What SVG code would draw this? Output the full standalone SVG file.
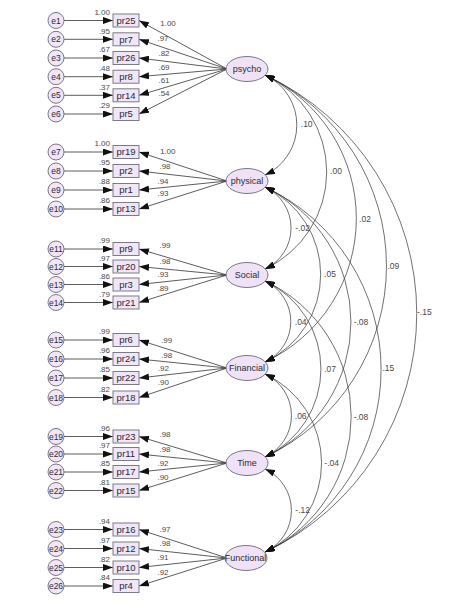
<svg xmlns="http://www.w3.org/2000/svg" width="475" height="609" viewBox="0 0 475 609">
<defs>
<marker id="ah" markerUnits="userSpaceOnUse" markerWidth="10" markerHeight="7" refX="10" refY="3.5" orient="auto-start-reverse">
<path d="M0,0 L10,3.5 L0,7 z" fill="#111"/>
</marker>
<style>
text{font-family:"Liberation Sans",Arial,sans-serif;fill:#333}
.box{fill:#f1e6f7;stroke:#7d7a88;stroke-width:1}
.err{fill:#f1e6f7;stroke:#6d6a78;stroke-width:0.9}
.lat{fill:#efe2f6;stroke:#6d6a78;stroke-width:0.9}
.t9{font-size:9px;text-anchor:middle;fill:#2a2a35}
.tb{font-size:9.5px;text-anchor:middle;fill:#2a2a35}
.te{font-size:8.5px;text-anchor:middle;fill:#2a2a35}
.r2{font-size:8px;fill:#4a4a4a;text-anchor:end}
.ld{font-size:8px;fill:#4a4a4a;text-anchor:middle}
.cv{font-size:8.5px;fill:#4a4a4a;text-anchor:middle}
.c{fill:none;stroke:#333;stroke-width:0.8;marker-end:url(#ah)}
.a{fill:none;stroke:#333;stroke-width:0.7;marker-start:url(#ah);marker-end:url(#ah)}
</style>
</defs>
<rect width="475" height="609" fill="#fff"/>

<!-- connectors -->
<g id="connectors">
<!-- error arrows -->
<line class="c" x1="64" y1="20.5" x2="113" y2="20.5"/>
<line class="c" x1="64" y1="39.3" x2="113" y2="39.3"/>
<line class="c" x1="64" y1="58" x2="113" y2="58"/>
<line class="c" x1="64" y1="76.7" x2="113" y2="76.7"/>
<line class="c" x1="64" y1="95.3" x2="113" y2="95.3"/>
<line class="c" x1="64" y1="114" x2="113" y2="114"/>
<line class="c" x1="64" y1="152" x2="113" y2="152"/>
<line class="c" x1="64" y1="171" x2="113" y2="171"/>
<line class="c" x1="64" y1="190" x2="113" y2="190"/>
<line class="c" x1="64" y1="209" x2="113" y2="209"/>
<line class="c" x1="64" y1="249" x2="113" y2="249"/>
<line class="c" x1="64" y1="266.5" x2="113" y2="266.5"/>
<line class="c" x1="64" y1="284.5" x2="113" y2="284.5"/>
<line class="c" x1="64" y1="302.5" x2="113" y2="302.5"/>
<line class="c" x1="64" y1="340" x2="113" y2="340"/>
<line class="c" x1="64" y1="359" x2="113" y2="359"/>
<line class="c" x1="64" y1="378" x2="113" y2="378"/>
<line class="c" x1="64" y1="397.5" x2="113" y2="397.5"/>
<line class="c" x1="64" y1="436.5" x2="113" y2="436.5"/>
<line class="c" x1="64" y1="454" x2="113" y2="454"/>
<line class="c" x1="64" y1="472" x2="113" y2="472"/>
<line class="c" x1="64" y1="490.5" x2="113" y2="490.5"/>
<line class="c" x1="64" y1="529.5" x2="113" y2="529.5"/>
<line class="c" x1="64" y1="548.5" x2="113" y2="548.5"/>
<line class="c" x1="64" y1="567.5" x2="113" y2="567.5"/>
<line class="c" x1="64" y1="586" x2="113" y2="586"/>
<!-- loadings -->
<line class="c" x1="227" y1="69" x2="139" y2="20.5"/>
<line class="c" x1="227" y1="69" x2="139" y2="39.3"/>
<line class="c" x1="227" y1="69" x2="139" y2="58"/>
<line class="c" x1="227" y1="69" x2="139" y2="76.7"/>
<line class="c" x1="227" y1="69" x2="139" y2="95.3"/>
<line class="c" x1="227" y1="69" x2="139" y2="114"/>
<line class="c" x1="227" y1="181" x2="139" y2="152"/>
<line class="c" x1="227" y1="181" x2="139" y2="171"/>
<line class="c" x1="227" y1="181" x2="139" y2="190"/>
<line class="c" x1="227" y1="181" x2="139" y2="209"/>
<line class="c" x1="227" y1="275" x2="139" y2="249"/>
<line class="c" x1="227" y1="275" x2="139" y2="266.5"/>
<line class="c" x1="227" y1="275" x2="139" y2="284.5"/>
<line class="c" x1="227" y1="275" x2="139" y2="302.5"/>
<line class="c" x1="227" y1="368" x2="139" y2="340"/>
<line class="c" x1="227" y1="368" x2="139" y2="359"/>
<line class="c" x1="227" y1="368" x2="139" y2="378"/>
<line class="c" x1="227" y1="368" x2="139" y2="397.5"/>
<line class="c" x1="227" y1="463" x2="139" y2="436.5"/>
<line class="c" x1="227" y1="463" x2="139" y2="454"/>
<line class="c" x1="227" y1="463" x2="139" y2="472"/>
<line class="c" x1="227" y1="463" x2="139" y2="490.5"/>
<line class="c" x1="227" y1="558" x2="139" y2="529.5"/>
<line class="c" x1="227" y1="558" x2="139" y2="548.5"/>
<line class="c" x1="227" y1="558" x2="139" y2="567.5"/>
<line class="c" x1="227" y1="558" x2="139" y2="586"/>
<!-- covariances -->
<path class="a" d="M265,75 A55.2,55.2 0 0 1 265,175"/>
<path class="a" d="M265,75 A107.1,107.1 0 0 1 265,269"/>
<path class="a" d="M265,75 A158.4,158.4 0 0 1 265,362"/>
<path class="a" d="M265,75 A210.9,210.9 0 0 1 265,457"/>
<path class="a" d="M265,75 A263.3,263.3 0 0 1 265,552"/>
<path class="a" d="M265,187 A45.3,45.3 0 0 1 265,269"/>
<path class="a" d="M265,187 A96.6,96.6 0 0 1 265,362"/>
<path class="a" d="M265,187 A149,149 0 0 1 265,457"/>
<path class="a" d="M265,187 A201.5,201.5 0 0 1 265,552"/>
<path class="a" d="M265,281 A44.7,44.7 0 0 1 265,362"/>
<path class="a" d="M265,281 A97.2,97.2 0 0 1 265,457"/>
<path class="a" d="M265,281 A149.6,149.6 0 0 1 265,552"/>
<path class="a" d="M265,374 A45.8,45.8 0 0 1 265,457"/>
<path class="a" d="M265,374 A98.3,98.3 0 0 1 265,552"/>
<path class="a" d="M265,469 A45.8,45.8 0 0 1 265,552"/>
</g>

<g id="edge-labels">
<!-- R squared -->
<text class="r2" x="110" y="14.5">1.00</text>
<text class="r2" x="110" y="33.5">.95</text>
<text class="r2" x="110" y="52.2">.67</text>
<text class="r2" x="110" y="70.9">.48</text>
<text class="r2" x="110" y="89.5">.37</text>
<text class="r2" x="110" y="108.2">.29</text>
<text class="r2" x="110" y="146.2">1.00</text>
<text class="r2" x="110" y="165.2">.95</text>
<text class="r2" x="110" y="184.2">.88</text>
<text class="r2" x="110" y="203.2">.86</text>
<text class="r2" x="110" y="243.2">.99</text>
<text class="r2" x="110" y="260.7">.97</text>
<text class="r2" x="110" y="278.7">.86</text>
<text class="r2" x="110" y="296.7">.79</text>
<text class="r2" x="110" y="334.2">.99</text>
<text class="r2" x="110" y="353.2">.96</text>
<text class="r2" x="110" y="372.2">.85</text>
<text class="r2" x="110" y="391.7">.82</text>
<text class="r2" x="110" y="430.7">.96</text>
<text class="r2" x="110" y="448.2">.97</text>
<text class="r2" x="110" y="466.2">.85</text>
<text class="r2" x="110" y="484.7">.81</text>
<text class="r2" x="110" y="523.7">.94</text>
<text class="r2" x="110" y="542.7">.97</text>
<text class="r2" x="110" y="561.7">.82</text>
<text class="r2" x="110" y="580.2">.84</text>
<!-- loadings -->
<text class="ld" x="168" y="25.7">1.00</text>
<text class="ld" x="163" y="41">.97</text>
<text class="ld" x="164" y="56">.82</text>
<text class="ld" x="164" y="70">.69</text>
<text class="ld" x="164" y="83">.61</text>
<text class="ld" x="164" y="96">.54</text>
<text class="ld" x="167.7" y="153.7">1.00</text>
<text class="ld" x="165" y="169">.98</text>
<text class="ld" x="163" y="183.7">.94</text>
<text class="ld" x="163" y="196.3">.93</text>
<text class="ld" x="165" y="248">.99</text>
<text class="ld" x="165" y="263.7">.98</text>
<text class="ld" x="163" y="277.3">.93</text>
<text class="ld" x="163" y="291.3">.89</text>
<text class="ld" x="166.7" y="343">.99</text>
<text class="ld" x="166.7" y="358">.98</text>
<text class="ld" x="163.3" y="371.3">.92</text>
<text class="ld" x="163.3" y="385.3">.90</text>
<text class="ld" x="165" y="437">.98</text>
<text class="ld" x="165" y="452.3">.98</text>
<text class="ld" x="163" y="466.3">.92</text>
<text class="ld" x="163" y="479.7">.90</text>
<text class="ld" x="165" y="532">.97</text>
<text class="ld" x="165" y="546.3">.98</text>
<text class="ld" x="163" y="560.3">.91</text>
<text class="ld" x="163" y="574.7">.92</text>
<!-- covariances -->
<text class="cv" x="306.7" y="127">.10</text>
<text class="cv" x="336" y="174">.00</text>
<text class="cv" x="365" y="222">.02</text>
<text class="cv" x="393.3" y="269">.09</text>
<text class="cv" x="424.3" y="314.7">-.15</text>
<text class="cv" x="302.7" y="230.7">-.02</text>
<text class="cv" x="330" y="277.3">.05</text>
<text class="cv" x="361" y="325.3">-.08</text>
<text class="cv" x="388.3" y="371.3">.15</text>
<text class="cv" x="300.7" y="325.3">.04</text>
<text class="cv" x="330" y="372">.07</text>
<text class="cv" x="361" y="419.7">-.08</text>
<text class="cv" x="300.7" y="419">.06</text>
<text class="cv" x="331.7" y="466.3">-.04</text>
<text class="cv" x="302.7" y="513">-.12</text>
</g>

<!-- latent factors -->
<g id="psycho"><ellipse class="lat" cx="247" cy="69" rx="21" ry="12.5"/><text class="t9" x="247" y="72.2">psycho</text></g>
<g id="physical"><ellipse class="lat" cx="247" cy="181" rx="21" ry="12.5"/><text class="t9" x="247" y="184.2">physical</text></g>
<g id="Social"><ellipse class="lat" cx="247" cy="275" rx="21" ry="12.5"/><text class="t9" x="247" y="278.2">Social</text></g>
<g id="Financial"><ellipse class="lat" cx="247" cy="368" rx="21" ry="12.5"/><text class="t9" x="247" y="371.2">Financial</text></g>
<g id="Time"><ellipse class="lat" cx="247" cy="463" rx="21" ry="12.5"/><text class="t9" x="247" y="466.2">Time</text></g>
<g id="Functional"><ellipse class="lat" cx="246" cy="558" rx="21" ry="12.5"/><text class="t9" x="245.5" y="561.2">Functional</text></g>

<!-- observed -->
<g id="pr25"><rect class="box" x="113" y="14" width="26" height="13"/><text class="tb" x="126" y="23.8">pr25</text></g>
<g id="pr7"><rect class="box" x="113" y="32.8" width="26" height="13"/><text class="tb" x="126" y="42.6">pr7</text></g>
<g id="pr26"><rect class="box" x="113" y="51.5" width="26" height="13"/><text class="tb" x="126" y="61.3">pr26</text></g>
<g id="pr8"><rect class="box" x="113" y="70.2" width="26" height="13"/><text class="tb" x="126" y="80">pr8</text></g>
<g id="pr14"><rect class="box" x="113" y="88.8" width="26" height="13"/><text class="tb" x="126" y="98.6">pr14</text></g>
<g id="pr5"><rect class="box" x="113" y="107.5" width="26" height="13"/><text class="tb" x="126" y="117.3">pr5</text></g>
<g id="pr19"><rect class="box" x="113" y="145.5" width="26" height="13"/><text class="tb" x="126" y="155.3">pr19</text></g>
<g id="pr2"><rect class="box" x="113" y="164.5" width="26" height="13"/><text class="tb" x="126" y="174.3">pr2</text></g>
<g id="pr1"><rect class="box" x="113" y="183.5" width="26" height="13"/><text class="tb" x="126" y="193.3">pr1</text></g>
<g id="pr13"><rect class="box" x="113" y="202.5" width="26" height="13"/><text class="tb" x="126" y="212.3">pr13</text></g>
<g id="pr9"><rect class="box" x="113" y="242.5" width="26" height="13"/><text class="tb" x="126" y="252.3">pr9</text></g>
<g id="pr20"><rect class="box" x="113" y="260" width="26" height="13"/><text class="tb" x="126" y="269.8">pr20</text></g>
<g id="pr3"><rect class="box" x="113" y="278" width="26" height="13"/><text class="tb" x="126" y="287.8">pr3</text></g>
<g id="pr21"><rect class="box" x="113" y="296" width="26" height="13"/><text class="tb" x="126" y="305.8">pr21</text></g>
<g id="pr6"><rect class="box" x="113" y="333.5" width="26" height="13"/><text class="tb" x="126" y="343.3">pr6</text></g>
<g id="pr24"><rect class="box" x="113" y="352.5" width="26" height="13"/><text class="tb" x="126" y="362.3">pr24</text></g>
<g id="pr22"><rect class="box" x="113" y="371.5" width="26" height="13"/><text class="tb" x="126" y="381.3">pr22</text></g>
<g id="pr18"><rect class="box" x="113" y="391" width="26" height="13"/><text class="tb" x="126" y="400.8">pr18</text></g>
<g id="pr23"><rect class="box" x="113" y="430" width="26" height="13"/><text class="tb" x="126" y="439.8">pr23</text></g>
<g id="pr11"><rect class="box" x="113" y="447.5" width="26" height="13"/><text class="tb" x="126" y="457.3">pr11</text></g>
<g id="pr17"><rect class="box" x="113" y="465.5" width="26" height="13"/><text class="tb" x="126" y="475.3">pr17</text></g>
<g id="pr15"><rect class="box" x="113" y="484" width="26" height="13"/><text class="tb" x="126" y="493.8">pr15</text></g>
<g id="pr16"><rect class="box" x="113" y="523" width="26" height="13"/><text class="tb" x="126" y="532.8">pr16</text></g>
<g id="pr12"><rect class="box" x="113" y="542" width="26" height="13"/><text class="tb" x="126" y="551.8">pr12</text></g>
<g id="pr10"><rect class="box" x="113" y="561" width="26" height="13"/><text class="tb" x="126" y="570.8">pr10</text></g>
<g id="pr4"><rect class="box" x="113" y="579.5" width="26" height="13"/><text class="tb" x="126" y="589.3">pr4</text></g>

<!-- errors -->
<g id="e1"><circle class="err" cx="56" cy="20.5" r="8"/><text class="te" x="56" y="23.5">e1</text></g>
<g id="e2"><circle class="err" cx="56" cy="39.3" r="8"/><text class="te" x="56" y="42.3">e2</text></g>
<g id="e3"><circle class="err" cx="56" cy="58" r="8"/><text class="te" x="56" y="61">e3</text></g>
<g id="e4"><circle class="err" cx="56" cy="76.7" r="8"/><text class="te" x="56" y="79.7">e4</text></g>
<g id="e5"><circle class="err" cx="56" cy="95.3" r="8"/><text class="te" x="56" y="98.3">e5</text></g>
<g id="e6"><circle class="err" cx="56" cy="114" r="8"/><text class="te" x="56" y="117">e6</text></g>
<g id="e7"><circle class="err" cx="56" cy="152" r="8"/><text class="te" x="56" y="155">e7</text></g>
<g id="e8"><circle class="err" cx="56" cy="171" r="8"/><text class="te" x="56" y="174">e8</text></g>
<g id="e9"><circle class="err" cx="56" cy="190" r="8"/><text class="te" x="56" y="193">e9</text></g>
<g id="e10"><circle class="err" cx="56" cy="209" r="8"/><text class="te" x="56" y="212">e10</text></g>
<g id="e11"><circle class="err" cx="56" cy="249" r="8"/><text class="te" x="56" y="252">e11</text></g>
<g id="e12"><circle class="err" cx="56" cy="266.5" r="8"/><text class="te" x="56" y="269.5">e12</text></g>
<g id="e13"><circle class="err" cx="56" cy="284.5" r="8"/><text class="te" x="56" y="287.5">e13</text></g>
<g id="e14"><circle class="err" cx="56" cy="302.5" r="8"/><text class="te" x="56" y="305.5">e14</text></g>
<g id="e15"><circle class="err" cx="56" cy="340" r="8"/><text class="te" x="56" y="343">e15</text></g>
<g id="e16"><circle class="err" cx="56" cy="359" r="8"/><text class="te" x="56" y="362">e16</text></g>
<g id="e17"><circle class="err" cx="56" cy="378" r="8"/><text class="te" x="56" y="381">e17</text></g>
<g id="e18"><circle class="err" cx="56" cy="397.5" r="8"/><text class="te" x="56" y="400.5">e18</text></g>
<g id="e19"><circle class="err" cx="56" cy="436.5" r="8"/><text class="te" x="56" y="439.5">e19</text></g>
<g id="e20"><circle class="err" cx="56" cy="454" r="8"/><text class="te" x="56" y="457">e20</text></g>
<g id="e21"><circle class="err" cx="56" cy="472" r="8"/><text class="te" x="56" y="475">e21</text></g>
<g id="e22"><circle class="err" cx="56" cy="490.5" r="8"/><text class="te" x="56" y="493.5">e22</text></g>
<g id="e23"><circle class="err" cx="56" cy="529.5" r="8"/><text class="te" x="56" y="532.5">e23</text></g>
<g id="e24"><circle class="err" cx="56" cy="548.5" r="8"/><text class="te" x="56" y="551.5">e24</text></g>
<g id="e25"><circle class="err" cx="56" cy="567.5" r="8"/><text class="te" x="56" y="570.5">e25</text></g>
<g id="e26"><circle class="err" cx="56" cy="586" r="8"/><text class="te" x="56" y="589">e26</text></g>
</svg>
